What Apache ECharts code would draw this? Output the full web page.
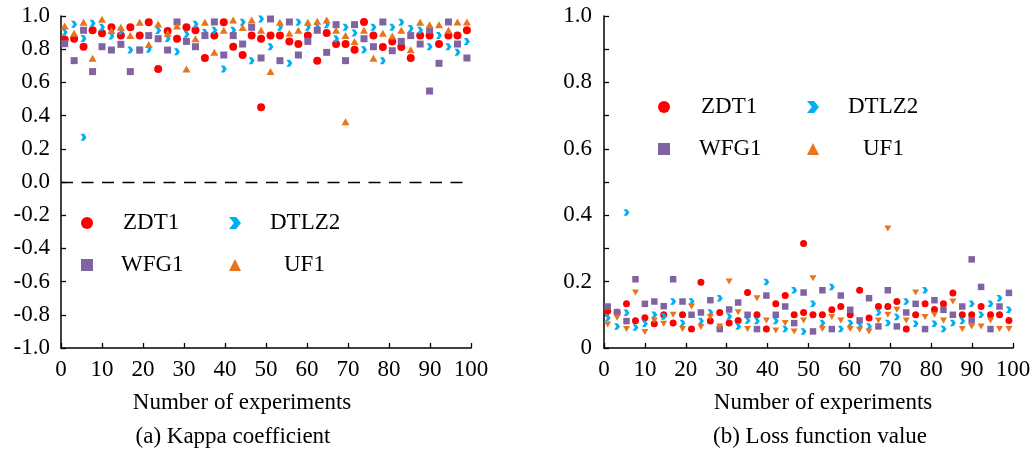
<!DOCTYPE html>
<html>
<head>
<meta charset="utf-8">
<title>Kappa coefficient and loss function value</title>
<script src="https://cdn.jsdelivr.net/npm/echarts@6/dist/echarts.min.js"></script>
<style>
  html, body { margin: 0; padding: 0; background: #fff; }
  #chart { width: 1035px; height: 452px; }
</style>
</head>
<body>
<div id="chart"></div>
<script>
// Experiment positions on the x axis (shared by every series)
const experiments = [0.9, 3.2, 5.5, 7.7, 10.0, 12.3, 14.6, 16.9, 19.2, 21.4, 23.7, 26.0, 28.3, 30.6, 32.8,
  35.1, 37.4, 39.7, 42.0, 44.3, 46.5, 48.8, 51.1, 53.4, 55.7, 57.9, 60.2, 62.5, 64.8, 67.1, 69.4,
  71.6, 73.9, 76.2, 78.5, 80.8, 83.0, 85.3, 87.6, 89.9, 92.2, 94.5, 96.7, 99.0];

const seriesNames = ['ZDT1', 'DTLZ2', 'WFG1', 'UF1'];

// (a) Kappa coefficient
const kappaZDT1 = [0.859, 0.863, 0.815, 0.914, 0.896, 0.932, 0.882, 0.932, 0.882, 0.962, 0.681, 0.910, 0.863, 0.932,
  0.914, 0.747, 0.882, 0.962, 0.815, 0.765, 0.882, 0.863, 0.882, 0.882, 0.847, 0.831, 0.882, 0.731, 0.898, 0.831,
  0.831, 0.797, 0.964, 0.882, 0.813, 0.847, 0.813, 0.747, 0.882, 0.882, 0.831, 0.882, 0.882, 0.914];
const kappaDTLZ2 = [0.902, 0.950, 0.865, 0.956, 0.932, 0.880, 0.910, 0.795, 0.795, 0.800, 0.912, 0.865, 0.785, 0.890,
  0.950, 0.900, 0.914, 0.681, 0.914, 0.962, 0.731, 0.982, 0.815, 0.932, 0.715, 0.962, 0.932, 0.932, 0.948, 0.863,
  0.932, 0.898, 0.797, 0.932, 0.731, 0.932, 0.962, 0.925, 0.914, 0.815, 0.882, 0.815, 0.781, 0.847];
const kappaWFG1 = [0.833, 0.731, 0.914, 0.665, 0.815, 0.795, 0.829, 0.665, 0.795, 0.882, 0.863, 0.795, 0.964, 0.847,
  0.815, 0.882, 0.964, 0.765, 0.882, 0.831, 0.932, 0.747, 0.982, 0.731, 0.964, 0.765, 0.847, 0.914, 0.781, 0.948,
  0.731, 0.948, 0.863, 0.815, 0.964, 0.791, 0.847, 0.882, 0.831, 0.914, 0.715, 0.964, 0.831, 0.747];
const kappaUF1 = [0.940, 0.896, 0.962, 0.745, 0.980, 0.912, 0.932, 0.882, 0.962, 0.829, 0.952, 0.896, 0.940, 0.681,
  0.863, 0.962, 0.781, 0.914, 0.976, 0.930, 0.976, 0.914, 0.665, 0.962, 0.896, 0.914, 0.962, 0.968, 0.976, 0.914,
  0.882, 0.847, 0.914, 0.745, 0.896, 0.880, 0.914, 0.797, 0.962, 0.948, 0.948, 0.914, 0.964, 0.964];
// one additional run per benchmark: [experiment, kappa]
const kappaExtra = { ZDT1: [48.8, 0.45], DTLZ2: [5.5, 0.27], WFG1: [89.9, 0.548], UF1: [69.4, 0.363] };

// (b) Loss function value
const lossZDT1 = [0.111, 0.108, 0.133, 0.082, 0.091, 0.073, 0.100, 0.075, 0.100, 0.057, 0.198, 0.081, 0.107, 0.075,
  0.083, 0.167, 0.100, 0.057, 0.133, 0.158, 0.100, 0.107, 0.100, 0.100, 0.115, 0.125, 0.100, 0.174, 0.090, 0.125,
  0.125, 0.140, 0.057, 0.100, 0.133, 0.116, 0.133, 0.166, 0.100, 0.100, 0.125, 0.100, 0.100, 0.083];
const lossDTLZ2 = [0.090, 0.065, 0.106, 0.062, 0.073, 0.100, 0.095, 0.140, 0.075, 0.140, 0.081, 0.107, 0.150, 0.095,
  0.065, 0.083, 0.081, 0.199, 0.081, 0.057, 0.174, 0.050, 0.133, 0.075, 0.184, 0.057, 0.075, 0.067, 0.065, 0.107,
  0.075, 0.093, 0.140, 0.073, 0.174, 0.073, 0.057, 0.075, 0.081, 0.133, 0.100, 0.133, 0.150, 0.115];
const lossWFG1 = [0.125, 0.108, 0.081, 0.207, 0.133, 0.140, 0.126, 0.207, 0.140, 0.100, 0.107, 0.144, 0.057, 0.116,
  0.137, 0.100, 0.057, 0.158, 0.100, 0.125, 0.075, 0.167, 0.050, 0.174, 0.057, 0.158, 0.115, 0.083, 0.150, 0.065,
  0.174, 0.065, 0.107, 0.133, 0.057, 0.144, 0.115, 0.100, 0.125, 0.083, 0.184, 0.057, 0.125, 0.166];
const lossUF1 = [0.071, 0.091, 0.057, 0.167, 0.048, 0.083, 0.073, 0.100, 0.057, 0.125, 0.063, 0.093, 0.065, 0.200,
  0.108, 0.057, 0.150, 0.083, 0.053, 0.075, 0.050, 0.083, 0.210, 0.057, 0.093, 0.083, 0.057, 0.055, 0.050, 0.083,
  0.100, 0.115, 0.083, 0.167, 0.093, 0.100, 0.083, 0.140, 0.057, 0.065, 0.065, 0.083, 0.057, 0.057];
const lossExtra = { ZDT1: [48.8, 0.315], DTLZ2: [5.5, 0.408], WFG1: [89.9, 0.267], UF1: [69.4, 0.36] };

const kappaValues = { ZDT1: kappaZDT1, DTLZ2: kappaDTLZ2, WFG1: kappaWFG1, UF1: kappaUF1 };
const lossValues = { ZDT1: lossZDT1, DTLZ2: lossDTLZ2, WFG1: lossWFG1, UF1: lossUF1 };

const FONT = 'Liberation Serif';
const COLORS = { ZDT1: '#FF0000', DTLZ2: '#00B0F0', WFG1: '#8064A2', UF1: '#E8741C' };
const CHEVRON = 'path://M0,0 L6,0 L10,5 L6,10 L0,10 L4,5 Z';
const DOWN_TRIANGLE = 'path://M0,0 L10,0 L5,9 Z';

const markerStyle = {
  kappa: {
    ZDT1: { symbol: 'circle', size: 8 },
    DTLZ2: { symbol: CHEVRON, size: [6, 7] },
    WFG1: { symbol: 'rect', size: 7 },
    UF1: { symbol: 'triangle', size: [8, 7] }
  },
  loss: {
    ZDT1: { symbol: 'circle', size: 7 },
    DTLZ2: { symbol: CHEVRON, size: [6, 6.5] },
    WFG1: { symbol: 'rect', size: 6.5 },
    UF1: { symbol: DOWN_TRIANGLE, size: [7, 6] }
  }
};
const legendIcons = { ZDT1: 'circle', DTLZ2: CHEVRON, WFG1: 'rect', UF1: 'triangle' };

function points(values, extra) {
  const pts = experiments.map((x, i) => [x, values[i]]);
  pts.push(extra);
  return pts;
}

function axisCommon() {
  return {
    axisLine: { show: true, onZero: false, lineStyle: { color: '#000', width: 1.5 } },
    axisTick: { show: true, inside: true, length: 5, lineStyle: { color: '#000', width: 1.3 } },
    splitLine: { show: false },
    axisLabel: { color: '#000', fontFamily: FONT, fontSize: 23 }
  };
}

const xAxes = [0, 1].map(g => Object.assign(axisCommon(), {
  type: 'value', gridIndex: g, min: 0, max: 100, interval: 10
}));
xAxes.forEach(a => { a.axisLabel.margin = 10; });

const yKappa = Object.assign(axisCommon(), {
  type: 'value', gridIndex: 0, min: -1, max: 1, interval: 0.2
});
yKappa.axisLabel.formatter = v => (Math.abs(v) < 1e-9 ? 0 : v).toFixed(1);
yKappa.axisLabel.margin = 11;

const yLoss = Object.assign(axisCommon(), {
  type: 'value', gridIndex: 1, min: 0, max: 1, interval: 0.1
});
yLoss.axisLabel.formatter = v => {
  const k = Math.round(v * 10);
  if (k % 2) return '';
  return k === 0 ? '0' : (k / 10).toFixed(1);
};
yLoss.axisLabel.margin = 12;

const series = [];
seriesNames.forEach(name => {
  const mk = markerStyle.kappa[name];
  const s = {
    name, type: 'scatter', xAxisIndex: 0, yAxisIndex: 0,
    symbol: mk.symbol, symbolSize: mk.size,
    itemStyle: { color: COLORS[name], opacity: 1 },
    data: points(kappaValues[name], kappaExtra[name]),
    silent: true
  };
  if (name === 'ZDT1') {
    s.markLine = {
      silent: true, symbol: 'none', label: { show: false },
      lineStyle: { color: '#000', width: 1.3, type: [12, 8.5] },
      data: [{ yAxis: 0 }]
    };
  }
  series.push(s);
});
seriesNames.forEach(name => {
  const mk = markerStyle.loss[name];
  series.push({
    name, type: 'scatter', xAxisIndex: 1, yAxisIndex: 1,
    symbol: mk.symbol, symbolSize: mk.size,
    itemStyle: { color: COLORS[name], opacity: 1 },
    data: points(lossValues[name], lossExtra[name]),
    silent: true
  });
});

// legend entries: icon centre and start of the label text
const legendSpots = [
  { name: 'ZDT1', cx: 87, cy: 223, tx: 123 },
  { name: 'DTLZ2', cx: 235, cy: 223, tx: 270 },
  { name: 'WFG1', cx: 87, cy: 265, tx: 121 },
  { name: 'UF1', cx: 235, cy: 265, tx: 284 },
  { name: 'ZDT1', cx: 664, cy: 107, tx: 701 },
  { name: 'DTLZ2', cx: 813, cy: 107, tx: 848 },
  { name: 'WFG1', cx: 664, cy: 149, tx: 699 },
  { name: 'UF1', cx: 813, cy: 149, tx: 863 }
];
const ICON = 12;
const legends = legendSpots.map(p => ({
  show: true,
  selectedMode: false,
  orient: 'horizontal',
  left: p.cx - ICON / 2,
  top: p.cy - 12,
  padding: 0,
  itemWidth: ICON,
  itemHeight: ICON,
  data: [{ name: p.name, icon: legendIcons[p.name], itemStyle: { color: COLORS[p.name] } }],
  textStyle: {
    color: '#000', fontFamily: FONT, fontSize: 23, lineHeight: 24,
    padding: [0, 0, 0, p.tx - (p.cx + ICON / 2 + 5)]
  }
}));

function caption(text, cx, cy) {
  return {
    type: 'text', x: cx, y: cy,
    style: { text, fill: '#000', font: '23px "' + FONT + '"', align: 'center', verticalAlign: 'middle' }
  };
}

const chart = echarts.init(document.getElementById('chart'), null, { renderer: 'canvas' });
chart.setOption({
  animation: false,
  backgroundColor: '#fff',
  grid: [
    { left: 61, top: 16, width: 410, height: 332 },
    { left: 604, top: 16, width: 409, height: 332 }
  ],
  xAxis: xAxes,
  yAxis: [yKappa, yLoss],
  legend: legends,
  series,
  graphic: [
    caption('Number of experiments', 242, 403),
    caption('(a) Kappa coefficient', 233, 437),
    caption('Number of experiments', 823, 403),
    caption('(b) Loss function value', 820, 437)
  ]
});
</script>
</body>
</html>
